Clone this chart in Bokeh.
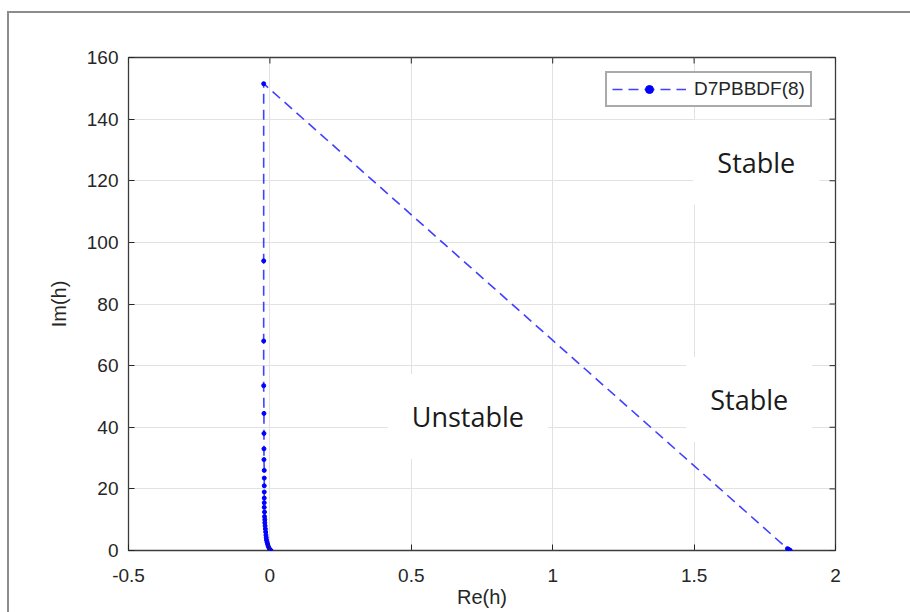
from bokeh.plotting import figure
from bokeh.models import (Label, Legend, LegendItem, FixedTicker, Range1d,
                          ColumnDataSource)
from bokeh.layouts import column
from bokeh.embed import file_html
from bokeh.resources import INLINE

# Stability boundary of the D7PBBDF(8) method in the h-plane
re_h = [0.004, 0.0, -0.003, -0.006, -0.008, -0.010, -0.012, -0.013, -0.014,
        -0.015, -0.016, -0.017, -0.018, -0.018, -0.019, -0.019, -0.020,
        -0.020, -0.020, -0.020, -0.020, -0.020, -0.020, -0.021, -0.021,
        -0.021, -0.021, -0.022, -0.022, -0.022, -0.022,
        1.830, 1.834, 1.838, 1.840]
im_h = [0.0, 0.3, 0.8, 1.4, 2.0, 2.7, 3.4, 4.2, 5.0, 6.0, 7.0, 8.0, 9.0,
        10.0, 11.0, 12.5, 14.0, 15.5, 17.0, 19.0, 21.0, 23.5, 26.0, 29.5,
        33.0, 38.0, 44.5, 53.5, 68.0, 94.0, 151.5,
        0.6, 0.35, 0.15, 0.0]

x_ticks = [-0.5, 0, 0.5, 1, 1.5, 2]
y_ticks = [0, 20, 40, 60, 80, 100, 120, 140, 160]
x_tick_labels = {-0.5: "-0.5", 0: "0", 0.5: "0.5", 1: "1", 1.5: "1.5", 2: "2"}

region_labels = ["Unstable", "Stable", "Stable"]
region_x = [0.70, 1.72, 1.695]
region_y = [43.5, 126.0, 49.0]

series_name = "D7PBBDF(8)"

src = ColumnDataSource(dict(x=re_h, y=im_h))

FONT = "Liberation Sans"
AX = "#262626"

p = figure(width=901, height=599, output_backend="svg", toolbar_location=None,
           x_range=Range1d(-0.5, 2), y_range=Range1d(0, 160),
           min_border_left=119, min_border_right=75,
           min_border_top=44, min_border_bottom=62)
p.background_fill_color = "white"
p.border_fill_color = "white"
p.outline_line_color = "#3c3c3c"
p.outline_line_width = 1.3

for ax in (p.xaxis[0], p.yaxis[0]):
    ax.major_tick_in = 6
    ax.major_tick_out = 0
    ax.minor_tick_in = 0
    ax.minor_tick_out = 0
    ax.axis_line_color = None
    ax.major_tick_line_color = AX
    ax.major_label_text_font = FONT
    ax.major_label_text_font_size = "19px"
    ax.major_label_text_color = AX
    ax.axis_label_text_font = FONT
    ax.axis_label_text_font_size = "20px"
    ax.axis_label_text_font_style = "normal"
    ax.axis_label_text_color = AX

p.xaxis.ticker = FixedTicker(ticks=x_ticks)
p.xaxis.major_label_overrides = x_tick_labels
p.yaxis.ticker = FixedTicker(ticks=y_ticks)
p.xaxis.axis_label = "Re(h)"
p.yaxis.axis_label = "Im(h)"
p.xaxis.major_label_standoff = 18
p.xaxis.axis_label_standoff = 1
p.yaxis.major_label_standoff = 10
p.yaxis.axis_label_standoff = 14

p.xgrid.ticker = FixedTicker(ticks=x_ticks)
p.ygrid.ticker = FixedTicker(ticks=y_ticks)
for g in (p.xgrid[0], p.ygrid[0]):
    g.grid_line_color = "#e2e2e2"
    g.grid_line_width = 1

# inward tick marks along the top and right edges of the box (clipped to the frame)
p.scatter(x=x_ticks, y=[160] * len(x_ticks), marker="dash", angle=1.5708,
          size=12, line_color=AX, line_width=1)
p.scatter(x=[2] * len(y_ticks), y=y_ticks, marker="dash", size=12,
          line_color=AX, line_width=1)

line = p.line("x", "y", source=src, line_color="blue", line_width=1.6,
              line_alpha=0.75, line_dash="10 6")
dots = p.scatter("x", "y", source=src, marker="circle", size=4,
                 fill_color="blue", line_color="blue")

for t, lx, ly in zip(region_labels, region_x, region_y):
    p.add_layout(Label(x=lx, y=ly, text=t, text_align="center",
                       text_baseline="middle", text_font="Open Sans",
                       text_font_size="27px", text_color="#1a1a1a",
                       background_fill_color="white", padding=24))

legend = Legend(items=[LegendItem(label=series_name, renderers=[line, dots])],
                location=(477, 443), glyph_width=74, glyph_height=20,
                label_text_font=FONT, label_text_font_size="19px",
                label_text_color=AX, label_standoff=8, padding=5,
                margin=0, border_line_color="#555555", border_line_width=2,
                background_fill_color="white")
p.add_layout(legend)

wrap = column(p, styles={"margin-left": "7px", "margin-top": "11px",
                         "border-left": "2px solid #8c8c8c",
                         "border-top": "2px solid #8c8c8c"})

open("out.html", "w").write(file_html(wrap, INLINE))
